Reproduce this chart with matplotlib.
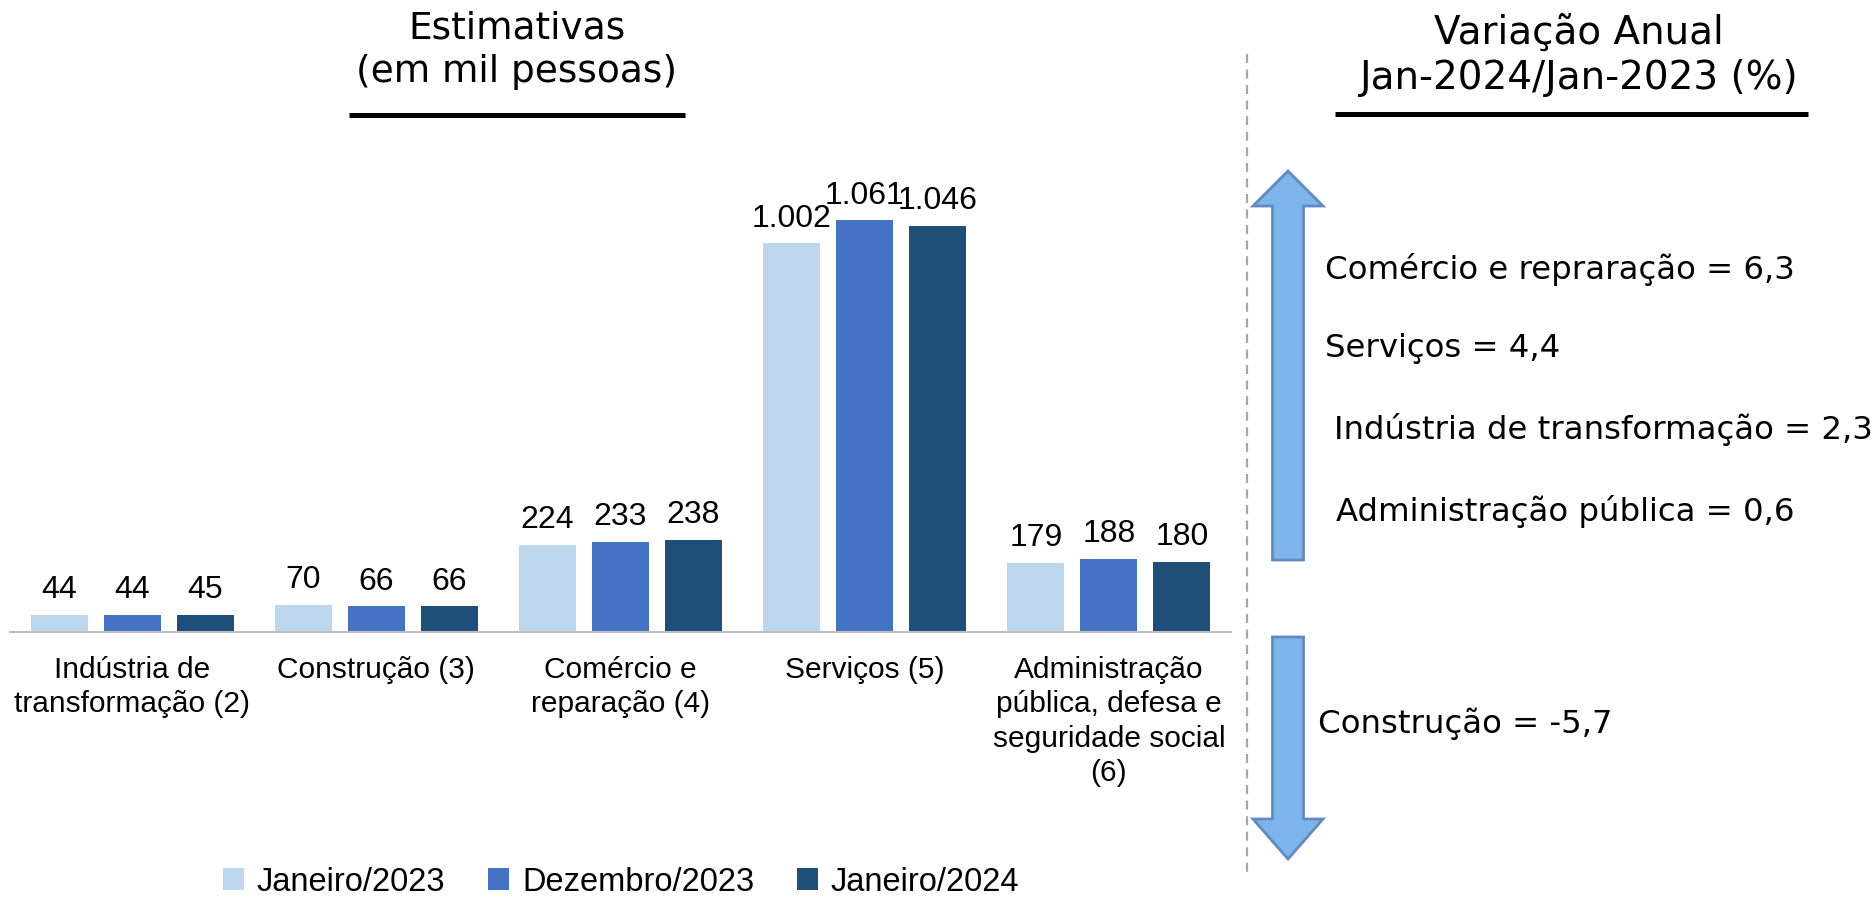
import matplotlib.pyplot as plt
from matplotlib.patches import Patch, Polygon
import numpy as np

# Dados (em mil pessoas)
categorias = ["Indústria de\ntransformação (2)", "Construção (3)",
              "Comércio e\nreparação (4)", "Serviços (5)",
              "Administração\npública, defesa e\nseguridade social\n(6)"]
jan_2023 = [44, 70, 224, 1002, 179]
dez_2023 = [44, 66, 233, 1061, 188]
jan_2024 = [45, 66, 238, 1046, 180]
series_nomes = ["Janeiro/2023", "Dezembro/2023", "Janeiro/2024"]
cores = ["#BDD7EE", "#4472C4", "#1F4E79"]

# Variação anual Jan-2024/Jan-2023 (%)
setores_alta = ["Comércio e repraração", "Serviços",
                "Indústria de transformação", "Administração pública"]
variacao_alta = [6.3, 4.4, 2.3, 0.6]
setores_baixa = ["Construção"]
variacao_baixa = [-5.7]

W, H = 1876, 897
fig = plt.figure(figsize=(W / 100, H / 100), dpi=100)

# Gráfico de barras
ax = fig.add_axes([10 / W, 1 - 632 / H, 1221 / W, 485 / H])
x = np.arange(len(categorias))
passo, largura = 0.299, 0.234
for k, (vals, cor, nome) in enumerate(zip([jan_2023, dez_2023, jan_2024], cores, series_nomes)):
    barras = ax.bar(x + (k - 1) * passo, vals, largura, color=cor, label=nome)
    for b, v in zip(barras, vals):
        ax.annotate(f"{v:,}".replace(",", "."), (b.get_x() + b.get_width() / 2, v),
                    xytext=(0, 7), textcoords="offset points", ha="center", va="bottom",
                    fontsize=23, family="Liberation Sans", annotation_clip=False)

ax.set_xlim(-0.5, 4.5)
ax.set_ylim(0, 1250)
ax.set_xticks(x)
ax.set_xticklabels(categorias, fontsize=21.5, family="Liberation Sans")
for lab in ax.get_xticklabels():
    lab.set_linespacing(1.3)
ax.tick_params(axis="x", length=0, pad=17)
ax.set_yticks([])
for lado in ["top", "left", "right"]:
    ax.spines[lado].set_visible(False)
ax.spines["bottom"].set_color("#BFBFBF")
ax.spines["bottom"].set_linewidth(1.5)

# Legenda
handles = [Patch(facecolor=c, label=n) for c, n in zip(cores, series_nomes)]
fig.legend(handles=handles, loc="center", bbox_to_anchor=(621 / W, 1 - 882 / H), ncol=3,
           frameon=False, prop={"family": "Liberation Sans", "size": 23.5},
           handlelength=0.65, handleheight=0.65, handletextpad=0.4, columnspacing=1.3,
           borderpad=0)

# Camada de anotações em pixels
ov = fig.add_axes([0, 0, 1, 1], facecolor="none")
ov.set_xlim(0, W)
ov.set_ylim(H, 0)
ov.axis("off")

ov.text(517, 50, "Estimativas\n(em mil pessoas)", ha="center", va="center",
        fontsize=27, linespacing=1.28)
ov.plot([349, 685], [115, 115], color="black", lw=3.6, solid_capstyle="butt")

ov.text(1579, 56, "Variação Anual\nJan-2024/Jan-2023 (%)", ha="center", va="center",
        fontsize=28, linespacing=1.22)
ov.plot([1335, 1808], [114, 114], color="black", lw=3.6, solid_capstyle="butt")

# Linha tracejada separadora
ov.plot([1247, 1247], [54, 873], color="#A6A6A6", lw=1.6, ls=(0, (4, 3)))

# Setas
cx, hh, hs = 1288, 35, 15.5
seta_cima = [(cx, 171), (cx + hh, 206), (cx + hs, 206), (cx + hs, 560),
             (cx - hs, 560), (cx - hs, 206), (cx - hh, 206)]
seta_baixo = [(cx, 859), (cx + hh, 819), (cx + hs, 819), (cx + hs, 637),
              (cx - hs, 637), (cx - hs, 819), (cx - hh, 819)]
for pts in [seta_cima, seta_baixo]:
    ov.add_patch(Polygon(pts, closed=True, facecolor="#7DB4EC", edgecolor="#5F8DC2", lw=2))

# Textos de variação
pos_alta = [(1325, 269), (1325, 348), (1334, 429), (1336, 512)]
for (px, py), s, v in zip(pos_alta, setores_alta, variacao_alta):
    ov.text(px, py, f"{s} = {v:.1f}".replace(".", ","), ha="left", va="center", fontsize=23.3)
for s, v in zip(setores_baixa, variacao_baixa):
    ov.text(1318, 724, f"{s} = {v:.1f}".replace(".", ","), ha="left", va="center", fontsize=23.3)

fig.savefig("out.png", dpi=100)
